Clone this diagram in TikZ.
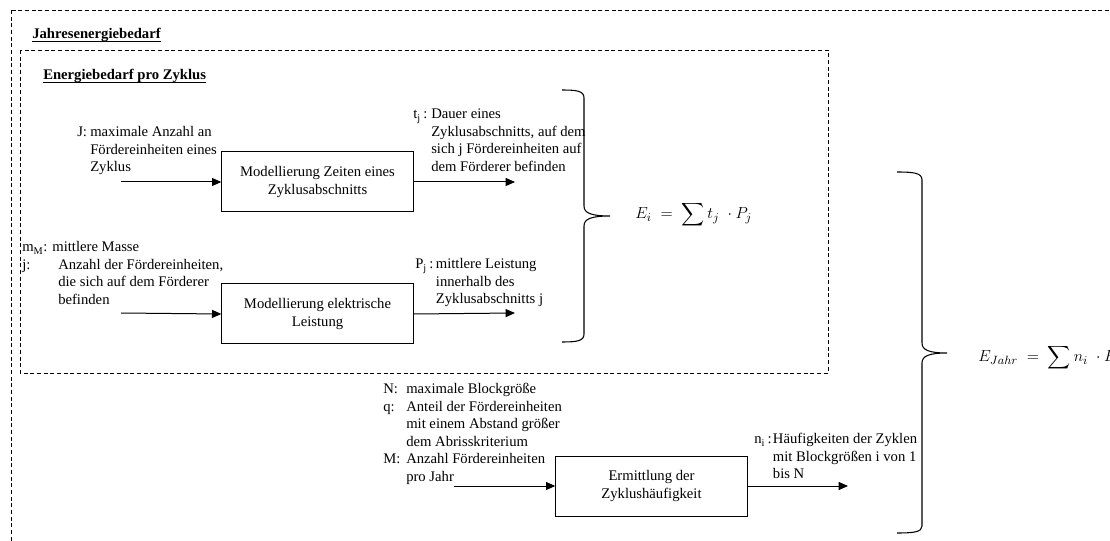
\documentclass[tikz,border=0pt]{standalone}
\usepackage{fontspec}
\setmainfont{Liberation Serif}
\usepackage{amsmath}
\usetikzlibrary{arrows.meta, positioning}

\begin{document}
\begin{tikzpicture}[
  x=0.75pt, y=-0.75pt,
  font=\fontsize{11}{13.1}\selectfont,
  >={Triangle[length=7pt, width=6pt]},
  grp/.style={draw, dash pattern=on 3pt off 2pt, line width=0.7pt},
  proc/.style={draw, line width=0.75pt, minimum width=143.5pt, minimum height=45pt,
               align=center, inner sep=2pt},
  flow/.style={->, line width=0.75pt},
  lab/.style={anchor=base west, inner sep=0pt},
  ttl/.style={anchor=base west, inner sep=0pt, font=\fontsize{11}{13.1}\selectfont\bfseries},
  bracket/.style={line width=0.8pt},
  eq/.style={anchor=west, inner sep=0pt, font=\fontsize{13}{15}\selectfont}
]
\useasboundingbox (0,0) rectangle (1110,541);
\clip (0,0) rectangle (1110,541);

% ---- Group frames ----
\draw[grp] (11,10) rectangle (1130,560);
\draw[grp] (20,50) rectangle (828,373);
\node[ttl] (tjahr) at (32,39) {\underline{\smash{Jahresenergiebedarf}}};
\node[ttl] (tzyk) at (43,80) {\underline{\smash{Energiebedarf pro Zyklus}}};

% ---- Process boxes ----
\node[proc] (mz) at (317.5,182) {Modellierung Zeiten eines\\Zyklusabschnitts};
\node[proc, below=53.25pt of mz] (ml) {Modellierung elektrische\\Leistung};
\node[proc] (ez) at (651.5,486) {Ermittlung der\\Zyklushäufigkeit};

% ---- Inputs ----
\node[lab] (lJ) at (77,137) {\begin{tabular}[t]{@{}l@{}l@{}}
  \makebox[9.75pt][l]{J:} & maximale Anzahl an\\ & Fördereinheiten eines\\ & Zyklus\end{tabular}};
\node[lab] (lm) at (22,252) {\begin{tabular}[t]{@{}l@{}l@{}}
  \multicolumn{2}{@{}l@{}}{m\textsubscript{M}: mittlere Masse}\\
  \makebox[27pt][l]{j:} & Anzahl der Fördereinheiten,\\ & die sich auf dem Förderer\\ & befinden\end{tabular}};
\node[lab] (lN) at (383,394) {\begin{tabular}[t]{@{}l@{}l@{}}
  \makebox[17.25pt][l]{N:} & maximale Blockgröße\\
  q: & Anteil der Fördereinheiten\\ & mit einem Abstand größer\\ & dem Abrisskriterium\\
  M: & Anzahl Fördereinheiten\\ & pro Jahr\end{tabular}};

\coordinate (inJ) at (121,182);
\coordinate (inm) at (121,313);
\coordinate (inN) at (454,486);
\draw[flow] (inJ) -- (mz.west);
\draw[flow] (inm) -- (ml.west);
\draw[flow] (inN) -- (ez.west);

% ---- Outputs ----
\node[lab] (lt) at (413,119) {\begin{tabular}[t]{@{}l@{}l@{}}
  \makebox[13.5pt][l]{t\textsubscript{j}\,:} & Dauer eines\\ & Zyklusabschnitts, auf dem\\
  & sich j Fördereinheiten auf\\ & dem Förderer befinden\end{tabular}};
\node[lab] (lP) at (415,269) {\begin{tabular}[t]{@{}l@{}l@{}}
  \makebox[15.5pt][l]{P\textsubscript{j}\,:} & mittlere Leistung\\ & innerhalb des\\ & Zyklusabschnitts j\end{tabular}};
\node[lab] (ln) at (754,444) {\begin{tabular}[t]{@{}l@{}l@{}}
  \makebox[14pt][l]{n\textsubscript{i}\,:} & Häufigkeiten der Zyklen\\ & mit Blockgrößen i von 1\\ & bis N\end{tabular}};

\coordinate (outt) at (515,182);
\coordinate (outP) at (515,313);
\coordinate (outn) at (848,486);
\draw[flow] (mz.east) -- (outt);
\draw[flow] (ml.east) -- (outP);
\draw[flow] (ez.east) -- (outn);

% ---- Braces and sums ----
\draw[bracket] (562,90) .. controls (577,90) and (584,91) .. (584,98) -- (584,206)
  .. controls (584,213) and (591,216) .. (610,216)
  .. controls (591,216) and (584,219) .. (584,226) -- (584,334)
  .. controls (584,341) and (577,342) .. (562,342);
\draw[bracket] (897,172) .. controls (914,172) and (922,173) .. (922,180) -- (922,343)
  .. controls (922,350) and (929,353) .. (947,353)
  .. controls (929,353) and (922,356) .. (922,363) -- (922,526)
  .. controls (922,532) and (914,533) .. (897,533);
\node[eq] (ei) at (635,215) {$E_i \;=\; \displaystyle\sum t_j \;\cdot P_j$};
\node[eq] (ejahr) at (978,358) {$E_{Jahr} \;=\; \displaystyle\sum n_i \;\cdot E_i$};

\end{tikzpicture}
\end{document}
